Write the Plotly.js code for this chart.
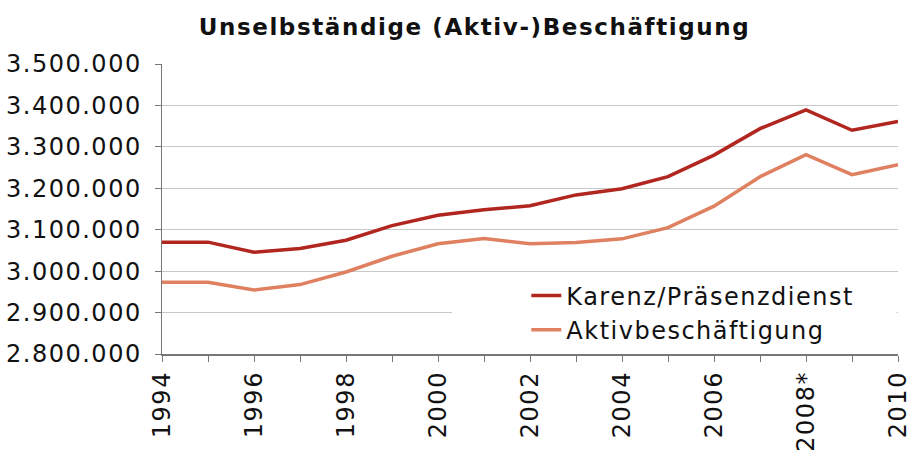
<!DOCTYPE html>
<html>
<head>
<meta charset="utf-8">
<script src="https://cdn.plot.ly/plotly-3.0.1.min.js"></script>
<style>
html, body { margin: 0; padding: 0; background: #fff; }
#chart { width: 912px; height: 454px; }
.xtick text, .ytick text, .legendtext { letter-spacing: 1.5px; }
.gtitle { letter-spacing: 1.6px; }
</style>
</head>
<body>
<div id="chart"></div>
<script>
const years = [1994, 1995, 1996, 1997, 1998, 1999, 2000, 2001, 2002, 2003, 2004, 2005, 2006, 2007, 2008, 2009, 2010];
const yearLabels = ["1994", "", "1996", "", "1998", "", "2000", "", "2002", "", "2004", "", "2006", "", "2008*", "", "2010"];
const karenz = [3070000, 3070000, 3045500, 3054500, 3074500, 3110000, 3135000, 3148000, 3158000, 3184000, 3199000, 3228000, 3280000, 3344000, 3389000, 3340000, 3361000];
const aktiv = [2973000, 2973000, 2954500, 2967500, 2998000, 3036000, 3066000, 3079000, 3066000, 3069000, 3078000, 3105000, 3157000, 3228000, 3281000, 3233000, 3257000];
const seriesNames = ["Karenz/Präsenzdienst", "Aktivbeschäftigung"];
const titleText = "Unselbständige (Aktiv-)Beschäftigung";

const traces = [
  { x: years, y: karenz, name: seriesNames[0], type: "scatter", mode: "lines",
    line: { color: "#B22620", width: 3.5 } },
  { x: years, y: aktiv, name: seriesNames[1], type: "scatter", mode: "lines",
    line: { color: "#DF8060", width: 3.5 } }
];

const layout = {
  width: 912, height: 454,
  margin: { l: 162, r: 14, t: 64, b: 100, pad: 0 },
  paper_bgcolor: "#fff", plot_bgcolor: "#fff",
  separators: ",.",
  font: { family: "DejaVu Sans, Verdana, sans-serif", color: "#111", size: 24 },
  title: { text: titleText, font: { family: "DejaVu Sans, Verdana, sans-serif", size: 23, color: "#111", weight: "bold" },
           x: 0.5203, xanchor: "center", xref: "container", y: 0.94, yanchor: "middle", yref: "container" },
  showlegend: true,
  legend: { x: 0.495, xanchor: "left", y: 0.278, yanchor: "top", bgcolor: "#fff",
            font: { size: 24, color: "#111" }, tracegroupgap: 0 },
  shapes: [
    { type: "rect", xref: "paper", yref: "paper", x0: 0.394, x1: 0.998, y0: 0.035, y1: 0.235,
      fillcolor: "#fff", line: { width: 0 }, layer: "above" }
  ],
  xaxis: {
    range: [1994, 2010], tickmode: "array", tickvals: years, ticktext: yearLabels,
    tickangle: -90, ticks: "outside", ticklen: 6, tickcolor: "#777", tickwidth: 1,
    ticklabeloverflow: "allow",
    showline: true, linecolor: "#777", linewidth: 1.5, showgrid: false, zeroline: false,
    tickfont: { size: 24, color: "#111" }
  },
  yaxis: {
    range: [2800000, 3500000], dtick: 100000, tick0: 2800000, tickformat: ",d",
    ticks: "outside", ticklen: 6, tickcolor: "#777", tickwidth: 1,
    ticklabelstandoff: 8,
    showline: true, linecolor: "#777", linewidth: 1.5,
    showgrid: true, gridcolor: "#c8c8c8", gridwidth: 1.2, zeroline: false,
    tickfont: { size: 24, color: "#111" }
  }
};

Plotly.newPlot("chart", traces, layout, { staticPlot: true, displayModeBar: false });
</script>
</body>
</html>
